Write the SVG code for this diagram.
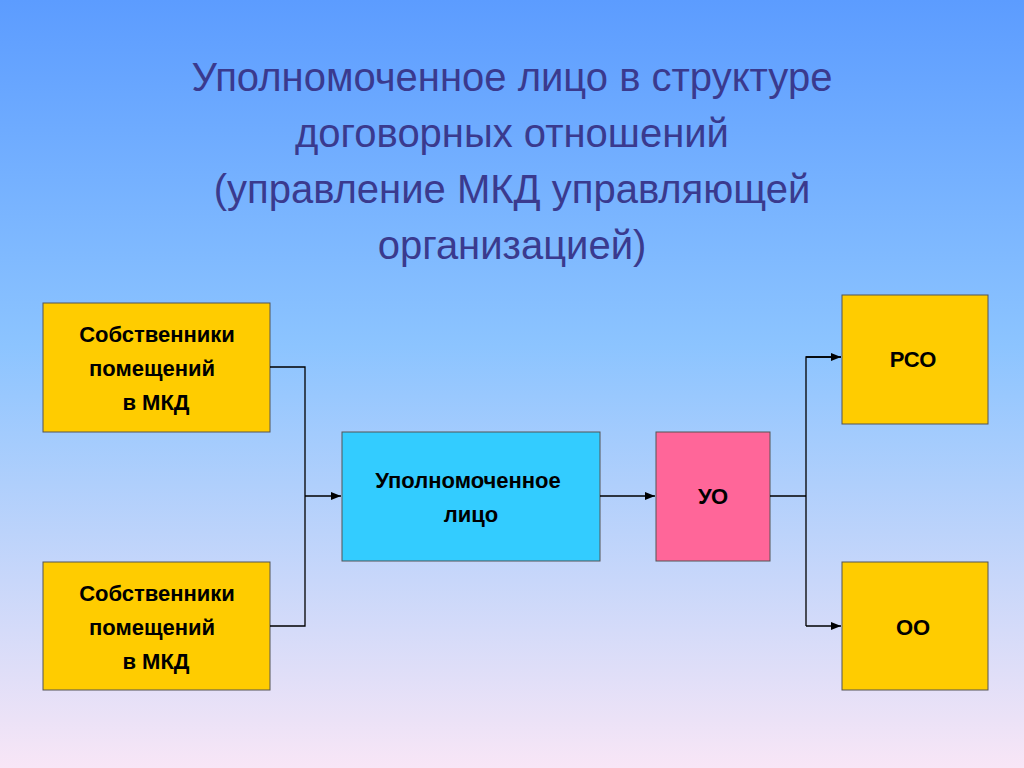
<svg xmlns="http://www.w3.org/2000/svg" width="1024" height="768" viewBox="0 0 1024 768">
<defs>
<linearGradient id="bg" x1="0" y1="0" x2="0" y2="1">
<stop offset="0" stop-color="#5c9cff"/>
<stop offset="0.45" stop-color="#8cc4ff"/>
<stop offset="1" stop-color="#f8e6f6"/>
</linearGradient>
<marker id="ar" markerWidth="10" markerHeight="8" refX="10" refY="4" orient="auto" markerUnits="userSpaceOnUse">
<path d="M0,0 L10,4 L0,8 Z" fill="#000"/>
</marker>
<style>
.t{font-family:"Liberation Sans",Arial,sans-serif;font-size:40px;fill:#3a3a8e;text-anchor:middle}
.b{stroke:#555;stroke-width:1}
.l{font-family:"Liberation Sans",Arial,sans-serif;font-size:22px;font-weight:bold;fill:#000;text-anchor:middle}
.c{stroke:#000;stroke-width:1.3;fill:none}
</style>
</defs>
<rect width="1024" height="768" fill="url(#bg)"/>
<text class="t" x="512" y="91">Уполномоченное лицо в структуре</text>
<text class="t" x="512" y="147">договорных отношений</text>
<text class="t" x="512" y="203">(управление МКД управляющей</text>
<text class="t" x="512" y="259">организацией)</text>
<g id="n1"><rect class="b" x="43" y="303" width="227" height="129" fill="#ffcc00"/>
<text class="l" x="157" y="342">Собственники</text><text class="l" x="152" y="376">помещений</text><text class="l" x="156" y="410">в МКД</text></g>
<g id="n2"><rect class="b" x="43" y="562" width="227" height="128" fill="#ffcc00"/>
<text class="l" x="157" y="601">Собственники</text><text class="l" x="152" y="635">помещений</text><text class="l" x="156" y="669">в МКД</text></g>
<g id="n3"><rect class="b" x="342" y="432" width="258" height="129" fill="#33ccff"/>
<text class="l" x="468" y="488">Уполномоченное</text><text class="l" x="471" y="522">лицо</text></g>
<g id="n4"><rect class="b" x="656" y="432" width="114" height="129" fill="#ff6699"/>
<text class="l" x="713" y="504">УО</text></g>
<g id="n5"><rect class="b" x="842" y="295" width="146" height="129" fill="#ffcc00"/>
<text class="l" x="913" y="367">РСО</text></g>
<g id="n6"><rect class="b" x="842" y="562" width="146" height="128" fill="#ffcc00"/>
<text class="l" x="913" y="635">ОО</text></g>
<g id="connectors">
<path class="c" d="M270,367 H305 V626 H270"/>
<path class="c" d="M305,496 H341" marker-end="url(#ar)"/>
<path class="c" d="M600,496 H655" marker-end="url(#ar)"/>
<path class="c" d="M770,496 H806"/>
<path class="c" d="M841,357 H806 V626"/>
<path class="c" d="M806,357 H841" marker-end="url(#ar)"/>
<path class="c" d="M806,626 H841" marker-end="url(#ar)"/>
</g>
</svg>
